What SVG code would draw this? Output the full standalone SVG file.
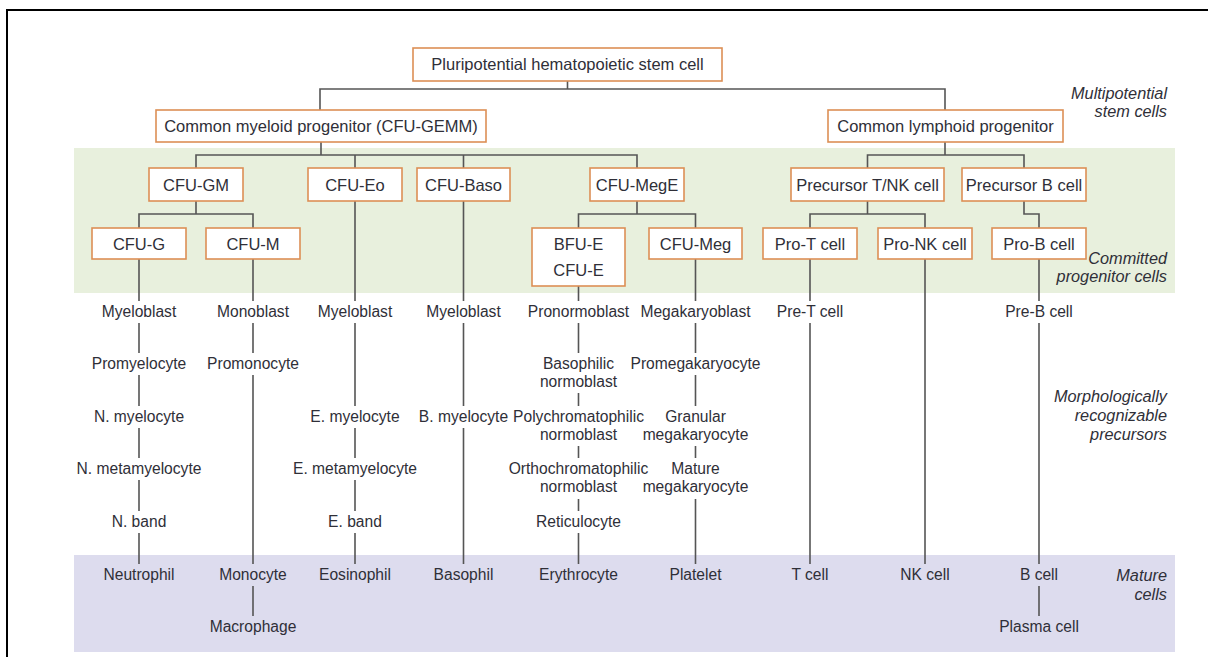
<svg xmlns="http://www.w3.org/2000/svg" width="1208" height="657" viewBox="0 0 1208 657">
<style>
.bg{fill:#ffffff}
.frame{fill:none;stroke:#000;stroke-width:2}
.box{fill:#fff;stroke:#dc8f55;stroke-width:1.6}
.bt{font-family:"Liberation Sans",Arial,sans-serif;font-size:16.5px;fill:#2f2f38;text-anchor:middle}
.lt{font-family:"Liberation Sans",Arial,sans-serif;font-size:15.6px;fill:#2f2f38;text-anchor:middle}
.it{font-family:"Liberation Sans",Arial,sans-serif;font-size:16.3px;font-style:italic;fill:#2f2f38;text-anchor:end}
.ln{fill:none;stroke:#555;stroke-width:1.6}
</style>
<rect class="bg" x="0" y="0" width="1208" height="657"/>
<path class="frame" d="M7,657 V10 H1208"/>
<rect id="band-committed" x="74" y="148" width="1101" height="145" fill="#e8f0dd"/>
<rect id="band-mature" x="74" y="555" width="1101" height="97" fill="#dddcee"/>

<g id="connectors" class="ln">
<path d="M567.5,81 V89 M320,110 V89 H945 V110"/>
<path d="M321,142 V155 M196,168 V155 H637 V168 M355,155 V168 M463.5,155 V168"/>
<path d="M945,142 V155 M867.5,168 V155 H1024 V168"/>
<path d="M196,201 V214 M139,228 V214 H253 V228"/>
<path d="M637,201 V214 M578.5,228 V214 H695.5 V228"/>
<path d="M867.5,201 V214 M810,228 V214 H925 V228"/>
<path d="M1024,201 V214 H1039 V228"/>
<path d="M139,259 V301 M139,323 V353 M139,375 V406 M139,428 V458 M139,480 V511 M139,533 V564"/>
<path d="M253,259 V301 M253,323 V353 M253,375 V564 M253,586 V616"/>
<path d="M355,201 V301 M355,323 V406 M355,428 V458 M355,480 V511 M355,533 V564"/>
<path d="M463.5,201 V301 M463.5,323 V406 M463.5,428 V564"/>
<path d="M578.5,286 V301 M578.5,323 V353 M578.5,393 V406 M578.5,446 V458 M578.5,499 V511 M578.5,533 V564"/>
<path d="M695.5,259 V301 M695.5,323 V353 M695.5,375 V406 M695.5,446 V458 M695.5,499 V564"/>
<path d="M810,259 V301 M810,323 V564"/>
<path d="M925,259 V564"/>
<path d="M1039,259 V301 M1039,323 V564 M1039,586 V616"/>
</g>

<g id="n-hsc"><rect class="box" x="413" y="48" width="309" height="33"/><text class="bt" x="567.5" y="70">Pluripotential hematopoietic stem cell</text></g>
<g id="n-cmp"><rect class="box" x="156" y="110" width="330" height="32"/><text class="bt" x="321" y="132">Common myeloid progenitor (CFU-GEMM)</text></g>
<g id="n-clp"><rect class="box" x="828" y="110" width="235" height="32"/><text class="bt" x="945.5" y="132">Common lymphoid progenitor</text></g>

<g id="n-cfugm"><rect class="box" x="149" y="168" width="94" height="33"/><text class="bt" x="196" y="190.5">CFU-GM</text></g>
<g id="n-cfueo"><rect class="box" x="308" y="168" width="94" height="33"/><text class="bt" x="355" y="190.5">CFU-Eo</text></g>
<g id="n-cfubaso"><rect class="box" x="417" y="168" width="93" height="33"/><text class="bt" x="463.5" y="190.5">CFU-Baso</text></g>
<g id="n-cfumege"><rect class="box" x="590" y="168" width="94" height="33"/><text class="bt" x="637" y="190.5">CFU-MegE</text></g>
<g id="n-pretnk"><rect class="box" x="791" y="168" width="153" height="33"/><text class="bt" x="867.5" y="190.5">Precursor T/NK cell</text></g>
<g id="n-preb"><rect class="box" x="962" y="168" width="124" height="33"/><text class="bt" x="1024" y="190.5">Precursor B cell</text></g>

<g id="n-cfug"><rect class="box" x="92" y="228" width="94" height="31"/><text class="bt" x="139" y="249.5">CFU-G</text></g>
<g id="n-cfum"><rect class="box" x="206" y="228" width="94" height="31"/><text class="bt" x="253" y="249.5">CFU-M</text></g>
<g id="n-bfue"><rect class="box" x="532" y="228" width="93" height="58"/><text class="bt" x="578.5" y="250">BFU-E</text><text class="bt" x="578.5" y="276">CFU-E</text></g>
<g id="n-cfumeg"><rect class="box" x="649" y="228" width="93" height="31"/><text class="bt" x="695.5" y="249.5">CFU-Meg</text></g>
<g id="n-prot"><rect class="box" x="763" y="228" width="94" height="31"/><text class="bt" x="810" y="249.5">Pro-T cell</text></g>
<g id="n-pronk"><rect class="box" x="878" y="228" width="94" height="31"/><text class="bt" x="925" y="249.5">Pro-NK cell</text></g>
<g id="n-prob"><rect class="box" x="992" y="228" width="94" height="31"/><text class="bt" x="1039" y="249.5">Pro-B cell</text></g>

<g id="col-neutrophil" class="lt">
<text x="139" y="316.5">Myeloblast</text>
<text x="139" y="369">Promyelocyte</text>
<text x="139" y="421.5">N. myelocyte</text>
<text x="139" y="474">N. metamyelocyte</text>
<text x="139" y="526.5">N. band</text>
<text x="139" y="579.5">Neutrophil</text>
</g>
<g id="col-monocyte" class="lt">
<text x="253" y="316.5">Monoblast</text>
<text x="253" y="369">Promonocyte</text>
<text x="253" y="579.5">Monocyte</text>
<text x="253" y="632">Macrophage</text>
</g>
<g id="col-eosinophil" class="lt">
<text x="355" y="316.5">Myeloblast</text>
<text x="355" y="421.5">E. myelocyte</text>
<text x="355" y="474">E. metamyelocyte</text>
<text x="355" y="526.5">E. band</text>
<text x="355" y="579.5">Eosinophil</text>
</g>
<g id="col-basophil" class="lt">
<text x="463.5" y="316.5">Myeloblast</text>
<text x="463.5" y="421.5">B. myelocyte</text>
<text x="463.5" y="579.5">Basophil</text>
</g>
<g id="col-erythrocyte" class="lt">
<text x="578.5" y="316.5">Pronormoblast</text>
<text x="578.5" y="369">Basophilic</text>
<text x="578.5" y="387">normoblast</text>
<text x="578.5" y="421.5">Polychromatophilic</text>
<text x="578.5" y="439.5">normoblast</text>
<text x="578.5" y="474">Orthochromatophilic</text>
<text x="578.5" y="492">normoblast</text>
<text x="578.5" y="526.5">Reticulocyte</text>
<text x="578.5" y="579.5">Erythrocyte</text>
</g>
<g id="col-platelet" class="lt">
<text x="695.5" y="316.5">Megakaryoblast</text>
<text x="695.5" y="369">Promegakaryocyte</text>
<text x="695.5" y="421.5">Granular</text>
<text x="695.5" y="439.5">megakaryocyte</text>
<text x="695.5" y="474">Mature</text>
<text x="695.5" y="492">megakaryocyte</text>
<text x="695.5" y="579.5">Platelet</text>
</g>
<g id="col-tcell" class="lt">
<text x="810" y="316.5">Pre-T cell</text>
<text x="810" y="579.5">T cell</text>
</g>
<g id="col-nkcell" class="lt">
<text x="925" y="579.5">NK cell</text>
</g>
<g id="col-bcell" class="lt">
<text x="1039" y="316.5">Pre-B cell</text>
<text x="1039" y="579.5">B cell</text>
<text x="1039" y="632">Plasma cell</text>
</g>

<g id="stage-labels" class="it">
<text x="1167" y="99">Multipotential</text>
<text x="1167" y="117">stem cells</text>
<text x="1167" y="263.5">Committed</text>
<text x="1167" y="282">progenitor cells</text>
<text x="1167" y="402">Morphologically</text>
<text x="1167" y="421">recognizable</text>
<text x="1167" y="440">precursors</text>
<text x="1167" y="581">Mature</text>
<text x="1167" y="600">cells</text>
</g>
</svg>
